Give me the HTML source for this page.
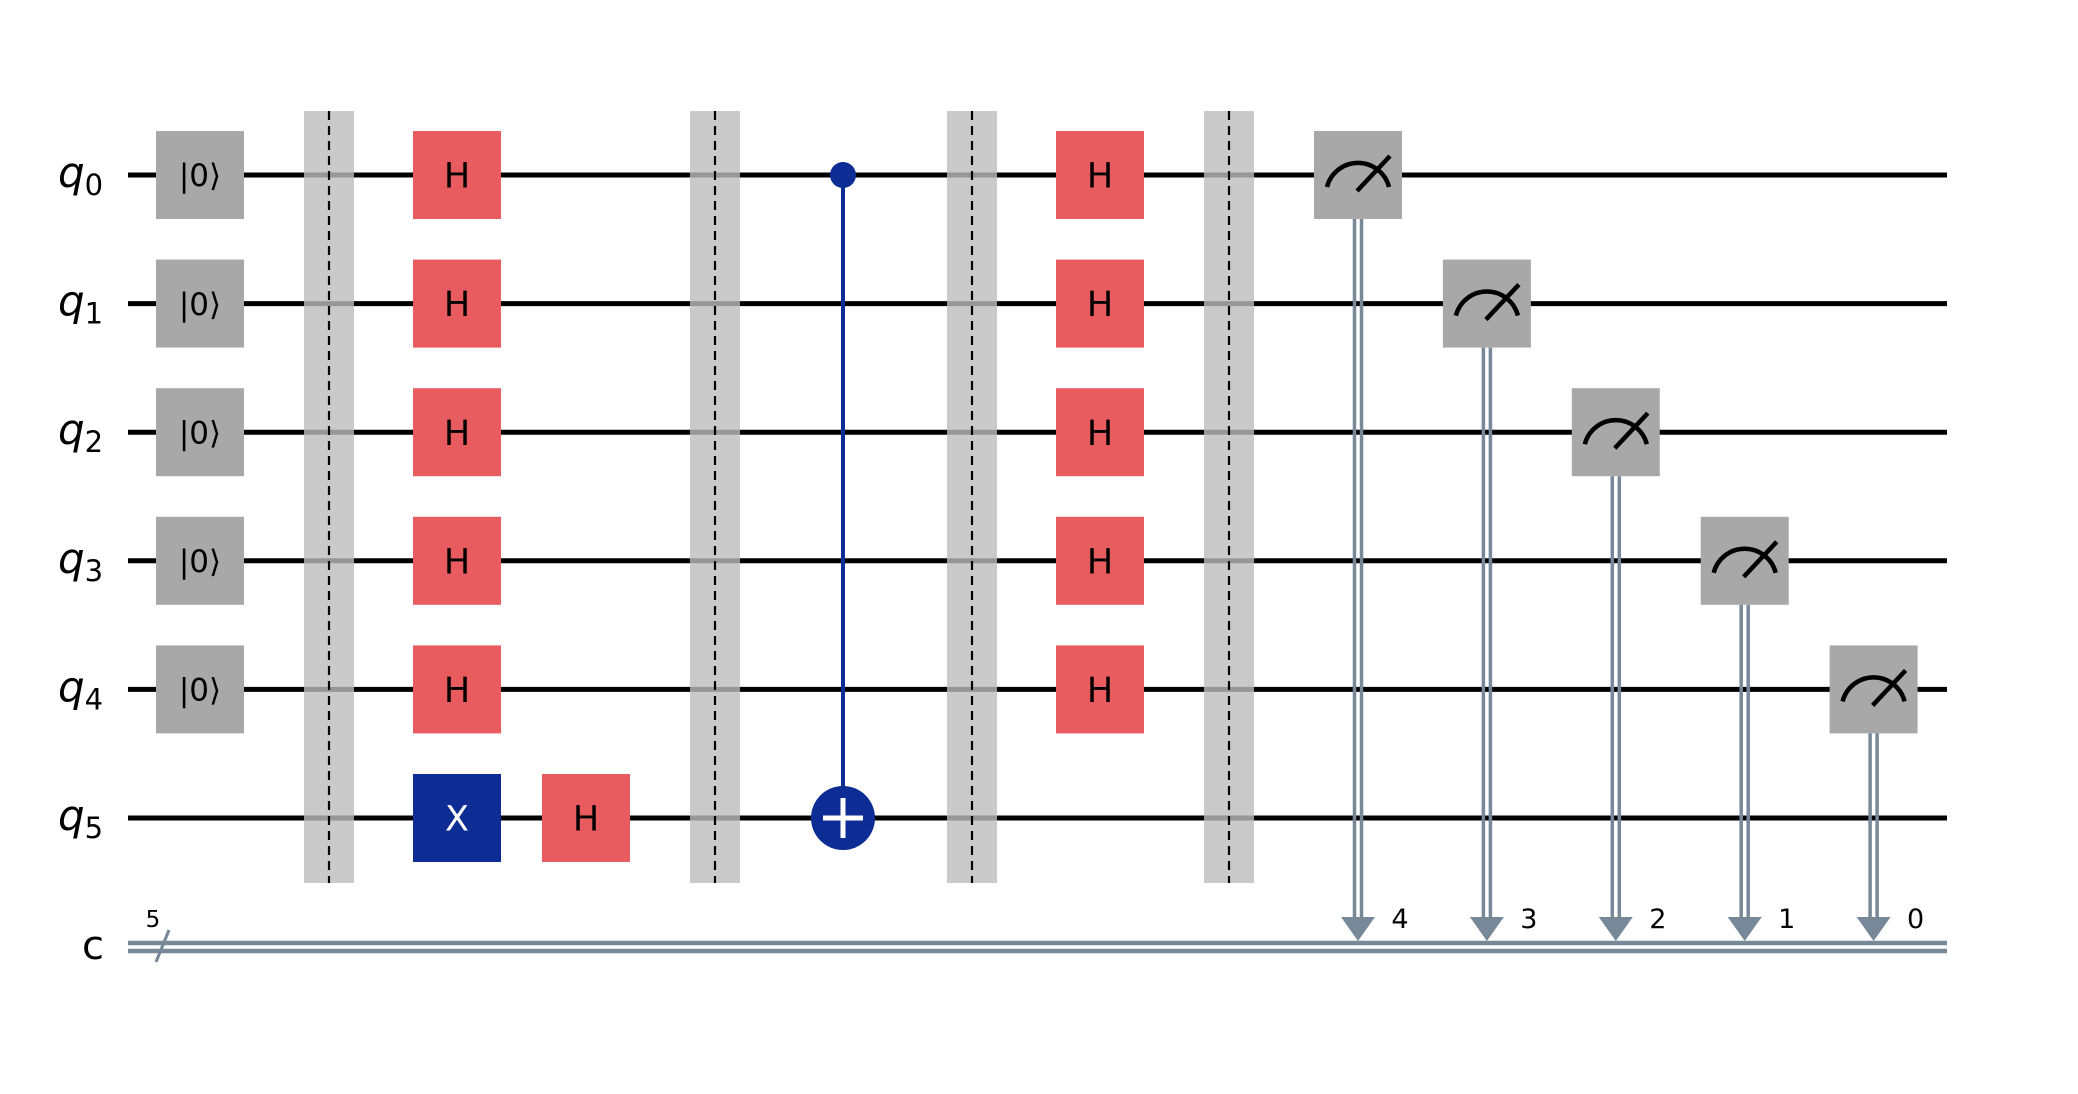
<!DOCTYPE html>
<html><head><meta charset="utf-8"><style>
html,body{margin:0;padding:0;background:#fff;}
svg{display:block;font-family:"DejaVu Sans","Liberation Sans",sans-serif;}
</style></head><body>
<svg id="circ" width="2078" height="1094" viewBox="0 0 2078 1094" xmlns="http://www.w3.org/2000/svg"></svg>
<script>
const qubits = [0,1,2,3,4,5];
const resetCols = [0,1,2,3,4];
const hCol1 = [0,1,2,3,4];
const hCol2 = [0,1,2,3,4];
const measureOrder = [0,1,2,3,4];
const measureLabels = ["4","3","2","1","0"];
const barrierXs = [329,715,972,1229];

const NS="http://www.w3.org/2000/svg";
const svg=document.getElementById('circ');
const Y=q=>175+q*128.6;
const CY=947;
const X0=128, X1=1947, G=88;
function el(t,a,p){const e=document.createElementNS(NS,t);for(const k in a)e.setAttribute(k,a[k]);(p||svg).appendChild(e);return e;}

// wires
qubits.forEach(q=>{
  const w=el('line',{x1:X0,x2:X1,y1:Y(q),y2:Y(q),stroke:'#000','stroke-width':5});
  
  
  const t=el('text',{x:58,y:Y(q)+12,'font-size':42,'font-style':'italic',fill:'#000'});
  
  
  t.textContent='q';
  const s=el('tspan',{dy:8,'font-size':29,'font-style':'normal'},t);s.textContent=q;
});
// classical
[CY-4,CY+4].forEach(y=>{const l=el('line',{x1:X0,x2:X1,y1:y,y2:y,stroke:'#778899','stroke-width':4.5});
  
  });
const cl=el('text',{x:82,y:CY+12,'font-size':40,fill:'#000'});cl.textContent='c';


el('line',{x1:169,y1:930,x2:156,y2:962,stroke:'#778899','stroke-width':3});
const five=el('text',{x:153,y:927,'font-size':23,'text-anchor':'middle'});five.textContent='5';



// barriers
barrierXs.forEach((x,i)=>{
  const r=el('rect',{x:x-25,y:111,width:50,height:772,fill:'#bdbdbd','fill-opacity':0.8});
  
  
  el('line',{x1:x,x2:x,y1:111,y2:883,stroke:'#000','stroke-width':2.2,'stroke-dasharray':'9,6'});
});

function gate(cx,q,label,fill,tc,name,fs){
  const g=el('g',{});
  
  
  el('rect',{x:cx-G/2,y:Y(q)-G/2,width:G,height:G,fill:fill},g);
  const t=el('text',{x:cx,y:Y(q)+fs*0.36,'font-size':fs,'text-anchor':'middle',fill:tc},g);t.textContent=label;
}
resetCols.forEach(q=>gate(200,q,'|0⟩','#a8a8a8','#000','reset-q'+q,31));
hCol1.forEach(q=>gate(457,q,'H','#e85b5e','#000','h-gate-q'+q,35));
gate(457,5,'X','#0d2c94','#fff','x-gate-q5',35);
gate(586,5,'H','#e85b5e','#000','h-gate-q5',35);
hCol2.forEach(q=>gate(1100,q,'H','#e85b5e','#000','h2-gate-q'+q,35));

// CNOT
const cn=el('g',{});


el('line',{x1:843,x2:843,y1:Y(0),y2:Y(5),stroke:'#0d2c94','stroke-width':4},cn);
el('circle',{cx:843,cy:Y(0),r:13,fill:'#0d2c94'},cn);
el('circle',{cx:843,cy:Y(5),r:32,fill:'#0d2c94'},cn);
el('line',{x1:823,x2:863,y1:Y(5),y2:Y(5),stroke:'#fff','stroke-width':5},cn);
el('line',{x1:843,x2:843,y1:Y(5)-20,y2:Y(5)+20,stroke:'#fff','stroke-width':5},cn);

// measures
measureOrder.forEach((q,i)=>{
  const cx=1358+i*128.9, cy=Y(q);
  const g=el('g',{});
  
  
  [-3.5,3.5].forEach(d=>el('line',{x1:cx+d,x2:cx+d,y1:cy+G/2,y2:917,stroke:'#778899','stroke-width':3.5},g));
  el('polygon',{points:`${cx-17},917 ${cx+17},917 ${cx},941`,fill:'#778899'},g);
  el('rect',{x:cx-G/2,y:cy-G/2,width:G,height:G,fill:'#a8a8a8'},g);
  el('path',{d:`M ${cx-31} ${cy+12} A 32 32 0 0 1 ${cx+31} ${cy+12}`,fill:'none',stroke:'#000','stroke-width':4.5},g);
  el('line',{x1:cx-1,y1:cy+16,x2:cx+32,y2:cy-19,stroke:'#000','stroke-width':4.5},g);
  const t=el('text',{x:cx+42,y:928,'font-size':27,'text-anchor':'middle'},g);t.textContent=measureLabels[i];
});
</script>
</body></html>
